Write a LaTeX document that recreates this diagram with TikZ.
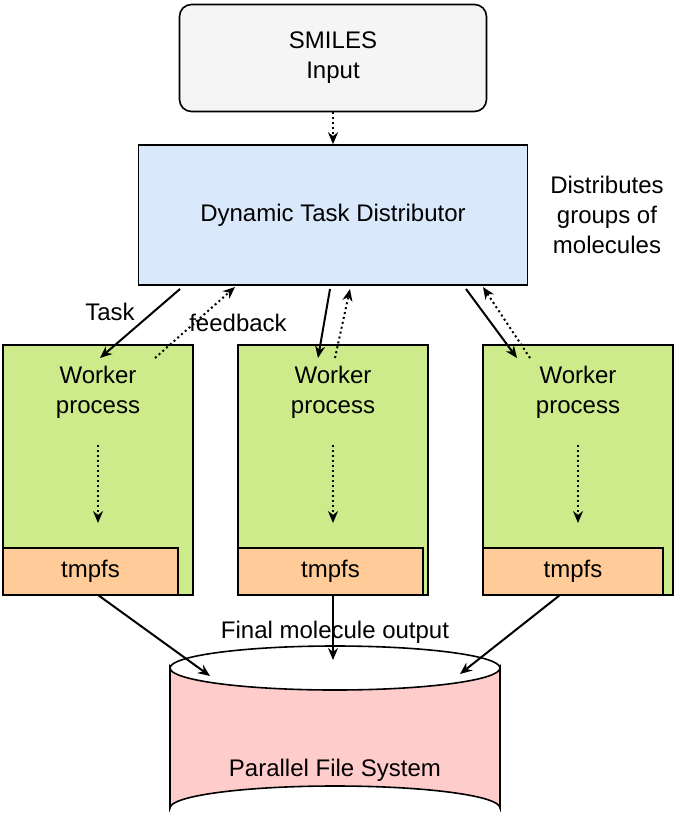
\documentclass[tikz,border=0pt]{standalone}
\usepackage{fontspec}
\setmainfont{Liberation Sans}
\usetikzlibrary{positioning,arrows.meta}
\definecolor{inputgray}{HTML}{F5F5F5}
\definecolor{distblue}{HTML}{DAE8FC}
\definecolor{workgreen}{HTML}{CDEB8B}
\definecolor{tmporange}{HTML}{FFCC99}
\definecolor{pfsred}{HTML}{FFCCCC}
\tikzset{
  box/.style={draw, line width=1.6pt, align=center, font=\fontsize{24}{30}\selectfont},
  worker/.style={box, fill=workgreen, minimum width=190pt, minimum height=250pt},
  tmp/.style={box, fill=tmporange, minimum height=47pt, anchor=south west},
  lbl/.style={align=center, font=\fontsize{24}{30}\selectfont},
  solidarr/.style={-{Stealth[length=12pt,width=10pt]}, line width=2pt},
  dotarr/.style={-{Stealth[length=12pt,width=10pt]}, line width=2pt, dash pattern=on 2pt off 3pt}
}
\begin{document}
\begin{tikzpicture}[x=1pt, y=-1pt]
    \useasboundingbox (0,0) rectangle (685,835);

    % Input and distributor
    \node[box, fill=inputgray, rounded corners=12pt, minimum width=307pt, minimum height=107pt] (smiles) at (333,58) {SMILES\\Input};
    \node[box, fill=distblue, minimum width=389pt, minimum height=140pt] (dist) at (333,215) {Dynamic Task Distributor};
    \node[lbl] (note) at (607,215) {Distributes\\groups of\\molecules};
    \draw[dotarr] (smiles) -- (dist);

    % Workers
    \foreach \n/\x/\w in {one/98/175, two/333/185, three/578/180} {
        \node[worker] (w\n) at (\x,470) {};
        \node[lbl, below=18pt of w\n.north] (wt\n) {Worker\\process};
        \node[tmp, minimum width=\w pt] (t\n) at (w\n.south west) {tmpfs};
        \coordinate (ds\n) at (\x,445);
        \coordinate (de\n) at (\x,523);
        \draw[dotarr] (ds\n) -- (de\n);
    }

    % Task / feedback links
    \coordinate (a1) at (180,289); \coordinate (b1) at (100,358);
    \coordinate (c1) at (155,358); \coordinate (d1) at (235,287);
    \coordinate (a2) at (330,289); \coordinate (b2) at (318,358);
    \coordinate (c2) at (335,358); \coordinate (d2) at (350,289);
    \coordinate (a3) at (466,289); \coordinate (b3) at (517,358);
    \coordinate (c3) at (530,358); \coordinate (d3) at (483,287);
    \foreach \i in {1,2,3} {
        \draw[solidarr] (a\i) -- (b\i);
        \draw[dotarr] (c\i) -- (d\i);
    }
    \node[lbl] (task) at (110,312) {Task};
    \node[lbl] (fb) at (238,323) {feedback};

    % Parallel file system
    \draw[line width=1.6pt, fill=pfsred] (170,668) -- (170,808) arc[start angle=180, end angle=360, x radius=165, y radius=22] -- (500,668) arc[start angle=0, end angle=180, x radius=165, y radius=22] -- cycle;
    \draw[line width=1.6pt] (170,668) arc[start angle=180, end angle=360, x radius=165, y radius=22];
    \node[lbl] (pfs) at (335,770) {Parallel File System};
    \coordinate (p1) at (210,676);
    \coordinate (p2) at (333,660);
    \coordinate (p3) at (460,674);
    \draw[solidarr] (98,595) -- (p1);
    \draw[solidarr] (333,595) -- (p2);
    \draw[solidarr] (560,595) -- (p3);
    \node[lbl] (final) at (335,632) {Final molecule output};
\end{tikzpicture}
\end{document}
